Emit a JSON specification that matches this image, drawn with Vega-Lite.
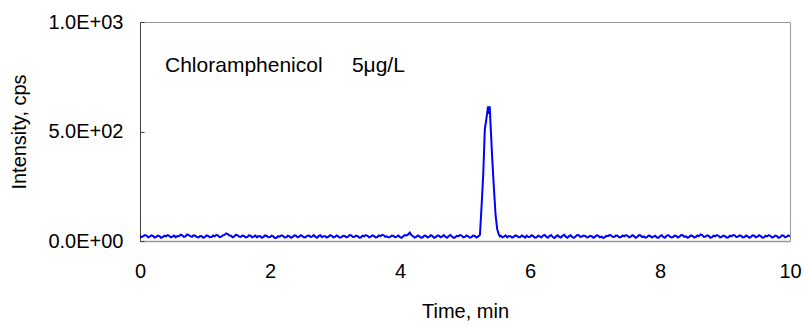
{
  "$schema": "https://vega.github.io/schema/vega-lite/v6.json",
  "width": 650,
  "height": 219,
  "autosize": "none",
  "padding": {"left": 140, "top": 22, "right": 14, "bottom": 85},
  "background": "white",
  "config": {
    "font": "Liberation Sans",
    "view": {"stroke": "#999999", "strokeWidth": 1}
  },
  "datasets": {
    "signal": [
      {"t":0.000,"v":24},{"t":0.025,"v":18},{"t":0.050,"v":22},{"t":0.075,"v":27},{"t":0.100,"v":25},{"t":0.125,"v":17},{"t":0.150,"v":20},{"t":0.175,"v":26},{"t":0.200,"v":23},{"t":0.225,"v":16},
      {"t":0.250,"v":19},{"t":0.275,"v":25},{"t":0.300,"v":22},{"t":0.325,"v":15},{"t":0.350,"v":18},{"t":0.375,"v":24},{"t":0.400,"v":21},{"t":0.425,"v":27},{"t":0.450,"v":24},{"t":0.475,"v":17},
      {"t":0.500,"v":20},{"t":0.525,"v":25},{"t":0.550,"v":17},{"t":0.575,"v":23},{"t":0.600,"v":22},{"t":0.625,"v":29},{"t":0.650,"v":26},{"t":0.675,"v":19},{"t":0.700,"v":21},{"t":0.725,"v":30},
      {"t":0.750,"v":27},{"t":0.775,"v":22},{"t":0.800,"v":19},{"t":0.825,"v":26},{"t":0.850,"v":24},{"t":0.875,"v":18},{"t":0.900,"v":16},{"t":0.925,"v":23},{"t":0.950,"v":22},{"t":0.975,"v":15},
      {"t":1.000,"v":19},{"t":1.025,"v":26},{"t":1.050,"v":23},{"t":1.075,"v":17},{"t":1.100,"v":18},{"t":1.125,"v":25},{"t":1.150,"v":21},{"t":1.175,"v":28},{"t":1.200,"v":25},{"t":1.225,"v":18},
      {"t":1.250,"v":20},{"t":1.275,"v":26},{"t":1.300,"v":28},{"t":1.325,"v":35},{"t":1.350,"v":32},{"t":1.375,"v":25},{"t":1.400,"v":24},{"t":1.425,"v":17},{"t":1.450,"v":21},{"t":1.475,"v":29},
      {"t":1.500,"v":26},{"t":1.525,"v":20},{"t":1.550,"v":19},{"t":1.575,"v":25},{"t":1.600,"v":23},{"t":1.625,"v":16},{"t":1.650,"v":18},{"t":1.675,"v":26},{"t":1.700,"v":24},{"t":1.725,"v":17},
      {"t":1.750,"v":20},{"t":1.775,"v":25},{"t":1.800,"v":17},{"t":1.825,"v":23},{"t":1.850,"v":22},{"t":1.875,"v":15},{"t":1.900,"v":19},{"t":1.925,"v":26},{"t":1.950,"v":23},{"t":1.975,"v":17},
      {"t":2.000,"v":18},{"t":2.025,"v":24},{"t":2.050,"v":21},{"t":2.075,"v":14},{"t":2.100,"v":15},{"t":2.125,"v":22},{"t":2.150,"v":20},{"t":2.175,"v":26},{"t":2.200,"v":23},{"t":2.225,"v":16},
      {"t":2.250,"v":17},{"t":2.275,"v":24},{"t":2.300,"v":21},{"t":2.325,"v":15},{"t":2.350,"v":19},{"t":2.375,"v":26},{"t":2.400,"v":24},{"t":2.425,"v":17},{"t":2.450,"v":20},{"t":2.475,"v":26},
      {"t":2.500,"v":22},{"t":2.525,"v":16},{"t":2.550,"v":18},{"t":2.575,"v":24},{"t":2.600,"v":25},{"t":2.625,"v":18},{"t":2.650,"v":21},{"t":2.675,"v":27},{"t":2.700,"v":19},{"t":2.725,"v":15},
      {"t":2.750,"v":23},{"t":2.775,"v":26},{"t":2.800,"v":17},{"t":2.825,"v":22},{"t":2.850,"v":22},{"t":2.875,"v":16},{"t":2.900,"v":20},{"t":2.925,"v":27},{"t":2.950,"v":24},{"t":2.975,"v":17},
      {"t":3.000,"v":19},{"t":3.025,"v":25},{"t":3.050,"v":21},{"t":3.075,"v":15},{"t":3.100,"v":18},{"t":3.125,"v":24},{"t":3.150,"v":23},{"t":3.175,"v":17},{"t":3.200,"v":20},{"t":3.225,"v":27},
      {"t":3.250,"v":25},{"t":3.275,"v":18},{"t":3.300,"v":19},{"t":3.325,"v":25},{"t":3.350,"v":22},{"t":3.375,"v":15},{"t":3.400,"v":17},{"t":3.425,"v":24},{"t":3.450,"v":21},{"t":3.475,"v":27},
      {"t":3.500,"v":24},{"t":3.525,"v":17},{"t":3.550,"v":20},{"t":3.575,"v":26},{"t":3.600,"v":23},{"t":3.625,"v":16},{"t":3.650,"v":18},{"t":3.675,"v":25},{"t":3.700,"v":22},{"t":3.725,"v":28},
      {"t":3.750,"v":26},{"t":3.775,"v":19},{"t":3.800,"v":21},{"t":3.825,"v":16},{"t":3.850,"v":19},{"t":3.875,"v":25},{"t":3.900,"v":23},{"t":3.925,"v":17},{"t":3.950,"v":20},{"t":3.975,"v":25},
      {"t":4.000,"v":18},{"t":4.025,"v":15},{"t":4.050,"v":22},{"t":4.075,"v":27},{"t":4.100,"v":25},{"t":4.125,"v":30},{"t":4.150,"v":38},{"t":4.175,"v":27},{"t":4.200,"v":22},{"t":4.225,"v":16},
      {"t":4.250,"v":19},{"t":4.275,"v":25},{"t":4.300,"v":21},{"t":4.325,"v":15},{"t":4.350,"v":17},{"t":4.375,"v":25},{"t":4.400,"v":23},{"t":4.425,"v":16},{"t":4.450,"v":20},{"t":4.475,"v":26},
      {"t":4.500,"v":22},{"t":4.525,"v":15},{"t":4.550,"v":18},{"t":4.575,"v":25},{"t":4.600,"v":24},{"t":4.625,"v":17},{"t":4.650,"v":21},{"t":4.675,"v":27},{"t":4.700,"v":19},{"t":4.725,"v":15},
      {"t":4.750,"v":23},{"t":4.775,"v":27},{"t":4.800,"v":20},{"t":4.825,"v":14},{"t":4.850,"v":17},{"t":4.875,"v":24},{"t":4.900,"v":22},{"t":4.925,"v":28},{"t":4.950,"v":24},{"t":4.975,"v":17},
      {"t":5.000,"v":19},{"t":5.025,"v":25},{"t":5.050,"v":21},{"t":5.075,"v":15},{"t":5.100,"v":18},{"t":5.125,"v":25},{"t":5.150,"v":23},{"t":5.175,"v":16},{"t":5.200,"v":20},{"t":5.215,"v":24},
      {"t":5.23,"v":28},{"t":5.255,"v":160},{"t":5.28,"v":300},{"t":5.305,"v":510},{"t":5.33,"v":560},{"t":5.355,"v":615},{"t":5.37,"v":580},{"t":5.38,"v":615},{"t":5.395,"v":520},{"t":5.42,"v":370},
      {"t":5.445,"v":240},{"t":5.47,"v":120},{"t":5.495,"v":55},{"t":5.52,"v":30},{"t":5.535,"v":21},{"t":5.550,"v":24},{"t":5.575,"v":17},{"t":5.600,"v":20},{"t":5.625,"v":26},{"t":5.650,"v":17},
      {"t":5.675,"v":23},{"t":5.700,"v":22},{"t":5.725,"v":16},{"t":5.750,"v":19},{"t":5.775,"v":26},{"t":5.800,"v":23},{"t":5.825,"v":17},{"t":5.850,"v":18},{"t":5.875,"v":25},{"t":5.900,"v":21},
      {"t":5.925,"v":15},{"t":5.950,"v":24},{"t":5.975,"v":18},
      {"t":6.000,"v":19},{"t":6.025,"v":26},{"t":6.050,"v":22},{"t":6.075,"v":15},{"t":6.100,"v":17},{"t":6.125,"v":24},{"t":6.150,"v":21},{"t":6.175,"v":16},{"t":6.200,"v":25},{"t":6.225,"v":28},
      {"t":6.250,"v":20},{"t":6.275,"v":15},{"t":6.300,"v":23},{"t":6.325,"v":27},{"t":6.350,"v":18},{"t":6.375,"v":14},{"t":6.400,"v":21},{"t":6.425,"v":26},{"t":6.450,"v":19},{"t":6.475,"v":16},
      {"t":6.500,"v":24},{"t":6.525,"v":28},{"t":6.550,"v":20},{"t":6.575,"v":15},{"t":6.600,"v":22},{"t":6.625,"v":26},{"t":6.650,"v":17},{"t":6.675,"v":14},{"t":6.700,"v":21},{"t":6.725,"v":27},
      {"t":6.750,"v":26},{"t":6.775,"v":19},{"t":6.800,"v":20},{"t":6.825,"v":25},{"t":6.850,"v":23},{"t":6.875,"v":16},{"t":6.900,"v":18},{"t":6.925,"v":24},{"t":6.950,"v":22},{"t":6.975,"v":15},
      {"t":7.000,"v":19},{"t":7.025,"v":26},{"t":7.050,"v":24},{"t":7.075,"v":17},{"t":7.100,"v":20},{"t":7.125,"v":14},{"t":7.150,"v":17},{"t":7.175,"v":24},{"t":7.200,"v":22},{"t":7.225,"v":28},
      {"t":7.250,"v":25},{"t":7.275,"v":18},{"t":7.300,"v":19},{"t":7.325,"v":26},{"t":7.350,"v":23},{"t":7.375,"v":16},{"t":7.400,"v":18},{"t":7.425,"v":25},{"t":7.450,"v":21},{"t":7.475,"v":27},
      {"t":7.500,"v":24},{"t":7.525,"v":17},{"t":7.550,"v":20},{"t":7.575,"v":26},{"t":7.600,"v":22},{"t":7.625,"v":15},{"t":7.650,"v":19},{"t":7.675,"v":27},{"t":7.700,"v":25},{"t":7.725,"v":18},
      {"t":7.750,"v":21},{"t":7.775,"v":15},{"t":7.800,"v":18},{"t":7.825,"v":25},{"t":7.850,"v":23},{"t":7.875,"v":16},{"t":7.900,"v":20},{"t":7.925,"v":24},{"t":7.950,"v":17},{"t":7.975,"v":14},
      {"t":8.000,"v":22},{"t":8.025,"v":27},{"t":8.050,"v":19},{"t":8.075,"v":15},{"t":8.100,"v":24},{"t":8.125,"v":27},{"t":8.150,"v":21},{"t":8.175,"v":16},{"t":8.200,"v":18},{"t":8.225,"v":25},
      {"t":8.250,"v":23},{"t":8.275,"v":16},{"t":8.300,"v":20},{"t":8.325,"v":27},{"t":8.350,"v":26},{"t":8.375,"v":19},{"t":8.400,"v":21},{"t":8.425,"v":15},{"t":8.450,"v":19},{"t":8.475,"v":26},
      {"t":8.500,"v":23},{"t":8.525,"v":16},{"t":8.550,"v":18},{"t":8.575,"v":25},{"t":8.600,"v":22},{"t":8.625,"v":30},{"t":8.650,"v":27},{"t":8.675,"v":19},{"t":8.700,"v":20},{"t":8.725,"v":26},
      {"t":8.750,"v":23},{"t":8.775,"v":15},{"t":8.800,"v":18},{"t":8.825,"v":24},{"t":8.850,"v":21},{"t":8.875,"v":27},{"t":8.900,"v":24},{"t":8.925,"v":17},{"t":8.950,"v":19},{"t":8.975,"v":25},
      {"t":9.000,"v":22},{"t":9.025,"v":15},{"t":9.050,"v":17},{"t":9.075,"v":24},{"t":9.100,"v":21},{"t":9.125,"v":27},{"t":9.150,"v":25},{"t":9.175,"v":18},{"t":9.200,"v":20},{"t":9.225,"v":26},
      {"t":9.250,"v":23},{"t":9.275,"v":16},{"t":9.300,"v":18},{"t":9.325,"v":25},{"t":9.350,"v":21},{"t":9.375,"v":15},{"t":9.400,"v":19},{"t":9.425,"v":26},{"t":9.450,"v":24},{"t":9.475,"v":17},
      {"t":9.500,"v":20},{"t":9.525,"v":26},{"t":9.550,"v":22},{"t":9.575,"v":15},{"t":9.600,"v":17},{"t":9.625,"v":24},{"t":9.650,"v":21},{"t":9.675,"v":27},{"t":9.700,"v":23},{"t":9.725,"v":16},
      {"t":9.750,"v":19},{"t":9.775,"v":25},{"t":9.800,"v":22},{"t":9.825,"v":15},{"t":9.850,"v":18},{"t":9.875,"v":26},{"t":9.900,"v":24},{"t":9.925,"v":17},{"t":9.950,"v":20},{"t":9.975,"v":25},
      {"t":10.000,"v":21}
    ],
    "labels": [
      {"label": "Chloramphenicol", "t": 0.385, "v": 772},
      {"label": "5μg/L", "t": 3.26, "v": 772}
    ]
  },
  "layer": [
    {
      "data": {"name": "signal"},
      "mark": {"type": "line", "color": "#0000FF", "strokeWidth": 2, "clip": true},
      "encoding": {
        "x": {
          "field": "t", "type": "quantitative",
          "scale": {"domain": [0, 10], "nice": false, "zero": false},
          "axis": {"title": "Time, min", "values": [0, 2, 4, 6, 8, 10], "format": "d", "ticks": false, "grid": false, "domainColor": "#999999", "domainWidth": 1.5, "labelPadding": 20, "titlePadding": 20, "labelFlush": false, "labelFont": "Liberation Sans", "titleFont": "Liberation Sans", "labelFontSize": 20, "titleFontSize": 20, "titleFontWeight": "normal", "labelColor": "black", "titleColor": "black"}
        },
        "y": {
          "field": "v", "type": "quantitative",
          "scale": {"domain": [0, 1000], "nice": false},
          "axis": {"title": "Intensity, cps", "values": [0, 500, 1000], "labelExpr": "replace(format(datum.value, '.1e'), 'e+', 'E+0')", "grid": false, "domainColor": "#404040", "tickColor": "#404040", "tickSize": -4, "labelPadding": 21, "titlePadding": 18, "labelFlush": false, "labelFont": "Liberation Sans", "titleFont": "Liberation Sans", "labelFontSize": 20, "titleFontSize": 20, "titleFontWeight": "normal", "labelColor": "black", "titleColor": "black"}
        }
      }
    },
    {
      "data": {"name": "labels"},
      "mark": {"type": "text", "align": "left", "baseline": "alphabetic", "fontSize": 21, "font": "Liberation Sans", "color": "black"},
      "encoding": {
        "x": {"field": "t", "type": "quantitative"},
        "y": {"field": "v", "type": "quantitative"},
        "text": {"field": "label"}
      }
    }
  ]
}
